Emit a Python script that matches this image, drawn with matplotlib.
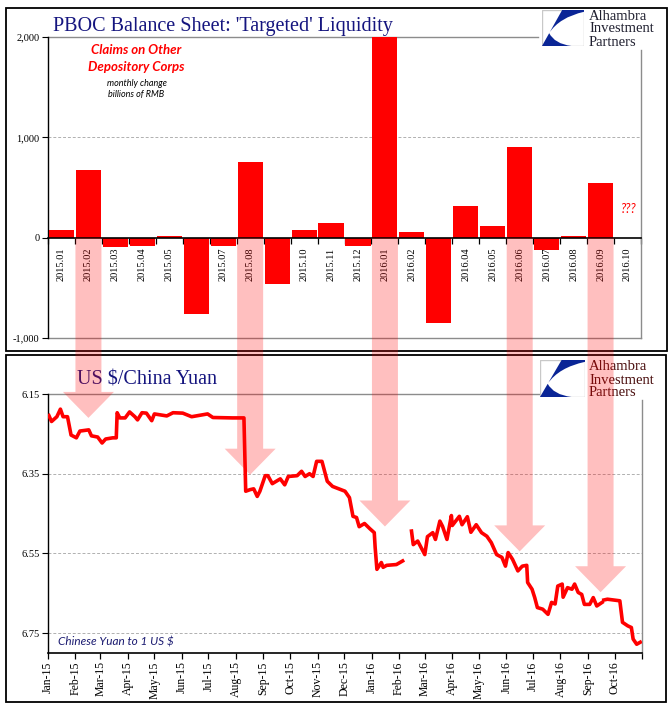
import numpy as np
import pandas as pd
import matplotlib
matplotlib.use("Agg")
import matplotlib.pyplot as plt
import matplotlib.dates as mdates
from matplotlib.patches import Rectangle, Polygon, PathPatch
from matplotlib.path import Path
from matplotlib.ticker import FuncFormatter, FixedLocator

# ---------------- data ----------------
months = ["2015.01", "2015.02", "2015.03", "2015.04", "2015.05", "2015.06",
          "2015.07", "2015.08", "2015.09", "2015.10", "2015.11", "2015.12",
          "2016.01", "2016.02", "2016.03", "2016.04", "2016.05", "2016.06",
          "2016.07", "2016.08", "2016.09", "2016.10"]
claims_change = [80, 670, -97, -87, 20, -757, -87, 750, -457, 73, 150, -85,
                 2100, 60, -847, 320, 120, 900, -127, 20, 540, np.nan]
bar_yticks = [-1000, 0, 1000, 2000]

fx_dates = ["2015-01-02", "2015-01-05", "2015-01-11", "2015-01-15", "2015-01-18",
            "2015-01-23", "2015-01-27", "2015-02-02", "2015-02-06", "2015-02-16",
            "2015-02-19", "2015-02-26", "2015-03-03", "2015-03-07", "2015-03-15",
            "2015-03-19", "2015-03-20", "2015-03-23", "2015-03-29", "2015-04-03",
            "2015-04-09", "2015-04-12", "2015-04-17", "2015-04-22", "2015-04-28",
            "2015-05-01", "2015-05-15", "2015-05-22", "2015-06-02", "2015-06-12",
            "2015-06-30", "2015-07-06", "2015-07-28", "2015-08-10", "2015-08-12",
            "2015-08-17", "2015-08-21", "2015-08-25", "2015-08-28", "2015-09-03",
            "2015-09-06", "2015-09-11", "2015-09-20", "2015-09-25", "2015-09-29",
            "2015-10-09", "2015-10-14", "2015-10-18", "2015-10-23", "2015-10-27",
            "2015-10-31", "2015-11-06", "2015-11-12", "2015-11-18", "2015-12-02",
            "2015-12-07", "2015-12-11", "2015-12-15", "2015-12-18", "2015-12-24",
            "2015-12-30", "2016-01-04", "2016-01-05", "2016-01-07", "2016-01-12",
            "2016-01-14", "2016-01-18", "2016-01-29", "2016-02-05", "2016-02-10",
            "2016-02-15", "2016-02-17", "2016-02-22", "2016-03-01", "2016-03-04",
            "2016-03-10", "2016-03-13", "2016-03-18", "2016-03-21", "2016-03-26",
            "2016-03-31", "2016-04-01", "2016-04-09", "2016-04-12", "2016-04-18",
            "2016-04-22", "2016-04-28", "2016-05-04", "2016-05-10", "2016-05-15",
            "2016-05-21", "2016-05-27", "2016-05-31", "2016-06-03", "2016-06-08",
            "2016-06-14", "2016-06-19", "2016-06-24", "2016-06-25", "2016-06-30",
            "2016-07-03", "2016-07-06", "2016-07-12", "2016-07-18", "2016-07-22",
            "2016-07-26", "2016-07-29", "2016-08-03", "2016-08-04", "2016-08-09",
            "2016-08-14", "2016-08-17", "2016-08-21", "2016-08-25", "2016-08-28",
            "2016-09-03", "2016-09-07", "2016-09-11", "2016-09-17", "2016-09-18",
            "2016-09-19", "2016-09-23", "2016-10-07", "2016-10-10", "2016-10-16",
            "2016-10-20", "2016-10-22", "2016-10-26", "2016-10-30"]
fx_values = [6.204, 6.219, 6.207, 6.188, 6.207,
             6.207, 6.253, 6.260, 6.243, 6.240,
             6.255, 6.258, 6.273, 6.263, 6.260,
             6.260, 6.197, 6.210, 6.210, 6.195,
             6.207, 6.215, 6.197, 6.198, 6.217,
             6.200, 6.205, 6.197, 6.198, 6.207,
             6.200, 6.209, 6.210, 6.210, 6.394,
             6.390, 6.388, 6.407, 6.394, 6.355,
             6.355, 6.375, 6.363, 6.378, 6.357,
             6.355, 6.344, 6.357, 6.350, 6.357,
             6.319, 6.319, 6.369, 6.382, 6.394,
             6.410, 6.457, 6.460, 6.483, 6.475,
             6.488, 6.498, 6.535, 6.590, 6.573,
             6.585, 6.580, 6.578, 6.569, np.nan,
             6.494, 6.528, 6.519, 6.553, 6.508,
             6.498, 6.515, 6.469, 6.482, 6.515,
             6.455, 6.480, 6.457, 6.478, 6.458,
             6.497, 6.478, 6.498, 6.507, 6.523,
             6.553, 6.560, 6.582, 6.548, 6.565,
             6.594, 6.582, 6.580, 6.623, 6.640,
             6.661, 6.686, 6.690, 6.703, 6.673,
             6.677, 6.632, 6.627, 6.660, 6.636,
             6.640, 6.627, 6.648, 6.653, 6.678,
             6.678, 6.661, 6.682, 6.673, np.nan,
             6.667, 6.665, 6.669, 6.723, 6.732,
             6.736, 6.765, 6.778, 6.773]
fx_yticks = [6.15, 6.35, 6.55, 6.75]

arrow_months = ["2015.02", "2015.08", "2016.01", "2016.06", "2016.09"]
arrow_tip_levels = [6.21, 6.3525, 6.4825, 6.545, 6.6475]

# ---------------- figure ----------------
W, H = 671, 721
plt.rcParams['font.family'] = ['Liberation Serif', 'DejaVu Serif']
fig = plt.figure(figsize=(W / 100, H / 100), dpi=100)
fig.patch.set_facecolor('white')

def fx(px):
    return px / W

def fy(py):
    return 1 - py / H

NAVY = '#15157f'
GRAY = '#8c8c8c'

# panel borders
for (x0, y0, x1, y1) in [(6, 8, 667, 351), (6, 355, 666, 702)]:
    fig.add_artist(Rectangle((fx(x0), fy(y1)), fx(x1) - fx(x0), fy(y0) - fy(y1),
                             transform=fig.transFigure, fill=False,
                             edgecolor='black', linewidth=1.3, zorder=1))

# ---------------- top bar chart ----------------
axt = fig.add_axes([fx(48), fy(338), fx(641) - fx(48), fy(37) - fy(338)])
for s in ['top', 'right']:
    axt.spines[s].set_visible(False)
axt.spines['bottom'].set_position(('data', 0))
axt.spines['bottom'].set_linewidth(1.2)
axt.spines['bottom'].set_zorder(5)
axt.spines['left'].set_linewidth(1.0)

idx = np.arange(len(months))
vals = np.array(claims_change, dtype=float)
ok = ~np.isnan(vals)
axt.bar(idx[ok], vals[ok], width=0.93, color='#ff0000', zorder=3)
axt.set_xlim(-0.5, len(months) - 0.5)
axt.set_ylim(-1000, 2000)
axt.set_yticks(bar_yticks)
axt.yaxis.set_major_formatter(FuncFormatter(lambda v, p: f"{int(v):,}"))
axt.tick_params(axis='y', labelsize=7.5, length=4, width=0.8, direction='out', pad=2)
axt.set_xticks(idx)
axt.set_xticklabels(months)
axt.set_xticks(np.arange(-0.5, len(months), 1.0), minor=True)
axt.tick_params(axis='x', which='major', length=0, pad=7, labelrotation=90, labelsize=7.5)
axt.tick_params(axis='x', which='minor', length=4, width=0.9, direction='out')
axt.axhline(1000, color='#b0b0b0', lw=0.7, ls=(0, (3, 2)), zorder=1)
axt.axhline(-1000, color=GRAY, lw=1.0, zorder=1, clip_on=False)
axt.axhline(2000, xmin=0, xmax=(538 - 48) / 593, color=GRAY, lw=1.0, zorder=1, clip_on=False)
axt.plot([1, 1], [0, (338 - 50) / 301], transform=axt.transAxes, color=GRAY, lw=1.0, clip_on=False)
axt.text(months.index("2016.10"), 290, "???", color='red', fontsize=9, style='italic',
         family=['Lato', 'DejaVu Sans'], ha='center', va='center')

# ---------------- bottom line chart ----------------
axb = fig.add_axes([fx(48), fy(653), fx(642) - fx(48), fy(394) - fy(653)])
dates = pd.to_datetime(fx_dates)
axb.plot(dates, fx_values, color='#ff0000', lw=2.6, zorder=3)
axb.set_ylim(6.80, 6.15)
axb.set_yticks(fx_yticks)
axb.yaxis.set_major_formatter(FuncFormatter(lambda v, p: f"{v:.2f}"))
axb.tick_params(axis='y', labelsize=7.5, length=4, width=0.8, pad=2)
x0d, x1d = pd.Timestamp("2015-01-01"), pd.Timestamp("2016-11-01")
axb.set_xlim(x0d, x1d)
axb.xaxis.set_major_locator(mdates.MonthLocator())
axb.xaxis.set_major_formatter(FuncFormatter(
    lambda v, p: '' if mdates.num2date(v).replace(tzinfo=None) >= x1d - pd.Timedelta(days=1)
    else mdates.num2date(v).strftime('%b-%y')))
axb.tick_params(axis='x', labelsize=8.5, length=4, width=0.9, labelrotation=90, pad=2)
for s in ['top', 'right']:
    axb.spines[s].set_visible(False)
axb.spines['bottom'].set_linewidth(1.2)
axb.spines['left'].set_linewidth(1.0)
for lv in fx_yticks[1:]:
    axb.axhline(lv, color='#b0b0b0', lw=0.7, ls=(0, (3, 2)), zorder=1)
axb.axhline(fx_yticks[0], xmin=0, xmax=(540 - 48) / 594, color=GRAY, lw=1.0, zorder=1, clip_on=False)
axb.plot([1, 1], [0, (653 - 400) / 259], transform=axb.transAxes, color=GRAY, lw=1.0, clip_on=False)
axb.text((58 - 48) / 594, (653 - 642) / 259, "Chinese Yuan to 1 US $", transform=axb.transAxes,
         color='#1a1a70', fontsize=8.5, style='italic', family=['Lato', 'DejaVu Sans'],
         ha='left', va='center')

# ---------------- titles & notes ----------------
fig.text(fx(53), fy(31), "PBOC Balance Sheet: 'Targeted' Liquidity", color=NAVY,
         fontsize=14.5, ha='left', va='baseline')
fig.text(fx(77), fy(384), "US $/China Yuan", color=NAVY, fontsize=14.5, ha='left', va='baseline')
fig.text(fx(136.5), fy(50), "Claims on Other", color='red', fontsize=9.5, weight='bold',
         style='italic', family=['Lato', 'DejaVu Sans'], ha='center', va='center')
fig.text(fx(136.5), fy(67), "Depository Corps", color='red', fontsize=9.5, weight='bold',
         style='italic', family=['Lato', 'DejaVu Sans'], ha='center', va='center')
fig.text(fx(136.5), fy(84), "monthly change", color='black', fontsize=6.5,
         style='italic', family=['Lato', 'DejaVu Sans'], ha='center', va='center')
fig.text(fx(136.5), fy(95), "billions of RMB", color='black', fontsize=6.5,
         style='italic', family=['Lato', 'DejaVu Sans'], ha='center', va='center')

# ---------------- logos ----------------
def draw_logo(x0, y0, w, h, text_x, text_ys, text_color):
    lax = fig.add_axes([fx(x0), fy(y0 + h), w / W, h / H])
    lax.set_xlim(0, 1)
    lax.set_ylim(0, 1)
    lax.axis('off')
    lax.add_patch(Rectangle((0, 0), 1, 1, facecolor='white', edgecolor='#c8c8c8', lw=1.0))
    verts = [(0.0, 0.0), (0.48, 1.0), (1.0, 1.0), (1.0, 0.95),
             (0.42, 0.80), (0.17, 0.36), (0.30, 0.06), (0.70, 0.0), (0.0, 0.0)]
    codes = [Path.MOVETO, Path.LINETO, Path.LINETO, Path.LINETO,
             Path.CURVE3, Path.CURVE3, Path.CURVE3, Path.CURVE3, Path.CLOSEPOLY]
    lax.add_patch(PathPatch(Path(verts, codes), facecolor='#0a2596', edgecolor='none'))
    for t, yy in zip(["Alhambra", "Investment", "Partners"], text_ys):
        fig.text(fx(text_x), fy(yy), t, color=text_color, fontsize=10.5,
                 ha='left', va='center')

draw_logo(542, 10, 42, 36, 589, [16.5, 29, 42], '#202030')
draw_logo(540, 360, 45, 37, 589, [367, 380, 392], '#4a0e0e')

# ---------------- arrows (overlay) ----------------
fig.canvas.draw()
inv = fig.transFigure.inverted()
mid_date = mdates.date2num(pd.Timestamp("2016-01-01"))
for m, lvl in zip(arrow_months, arrow_tip_levels):
    xc, y0 = axt.transData.transform((months.index(m), 0))
    _, yt = axb.transData.transform((mid_date, lvl))
    sw, hw, hl = 13, 25.5, 26
    pts = np.array([(xc - sw, y0), (xc + sw, y0), (xc + sw, yt + hl), (xc + hw, yt + hl),
                    (xc, yt), (xc - hw, yt + hl), (xc - sw, yt + hl)])
    fig.add_artist(Polygon(inv.transform(pts), closed=True, transform=fig.transFigure,
                           facecolor='red', edgecolor='none', alpha=0.25, zorder=10))

fig.savefig("out.png", dpi=100)
